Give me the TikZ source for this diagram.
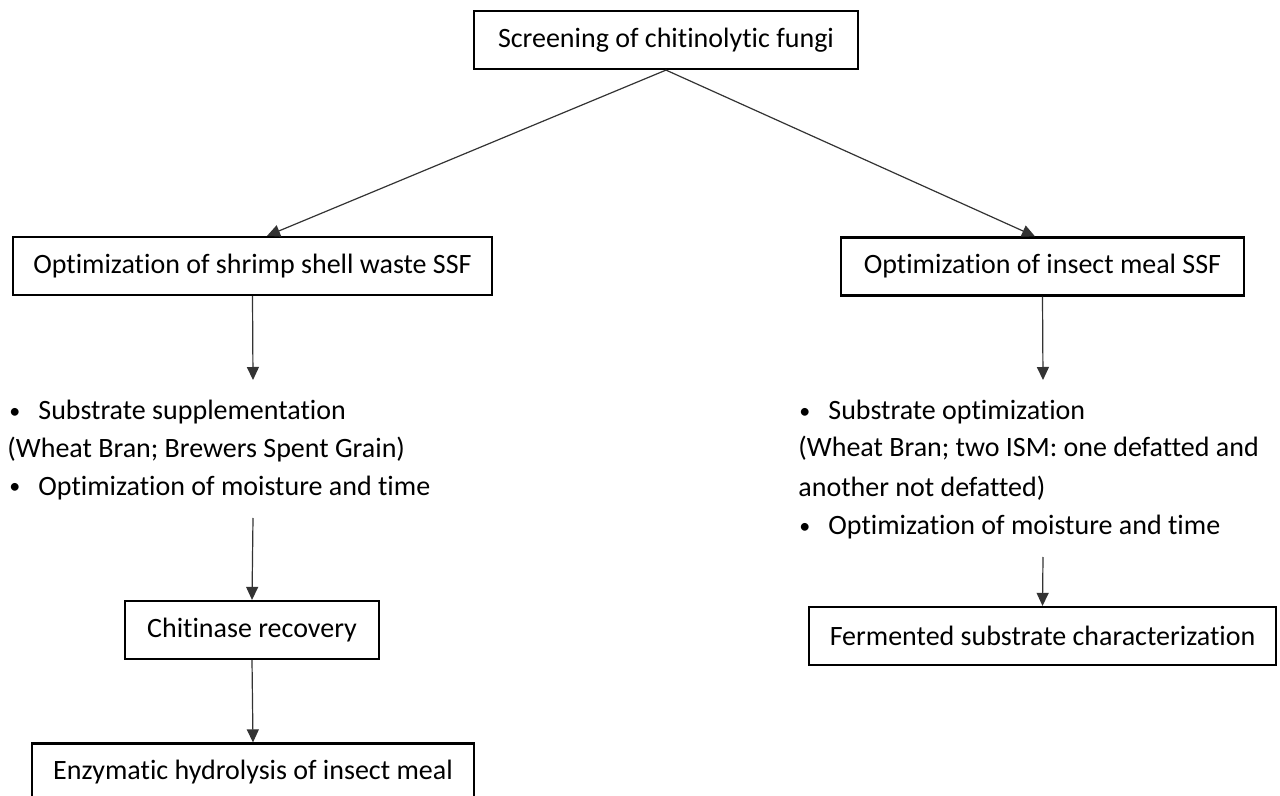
\documentclass[tikz,border=0pt]{standalone}
\usepackage{fontspec}
\setmainfont{Carlito}[RawFeature={-liga;-clig}]
\usetikzlibrary{arrows.meta}
\newcommand{\smallbul}{\raisebox{0.6pt}{\fontsize{11}{13}\selectfont •}}
\begin{document}
\begin{tikzpicture}[x=0.5pt,y=-0.5pt,
  box/.style={draw=black,line width=1.1pt,minimum height=29pt,inner sep=0pt,font=\fontsize{14}{17}\selectfont},
  conn/.style={draw=black!80,line width=0.6pt,-{Triangle[length=6.5pt,width=6pt]}},
  txt/.style={anchor=base west,inner sep=0pt,font=\fontsize{14}{17}\selectfont}]
\clip (0,0) rectangle (1280,796);
\fill[white] (0,0) rectangle (1280,796);
% boxes
\node[box,minimum width=192pt] (top) at (666,40) {Screening of chitinolytic fungi};
\node[box,minimum width=239.5pt] (L1) at (252.5,266) {Optimization of shrimp shell waste SSF};
\node[box,minimum width=201.5pt] (R1) at (1042.5,266.5) {Optimization of insect meal SSF};
\node[box,minimum width=127pt] (L2) at (252,630) {Chitinase recovery};
\node[box,minimum width=221pt] (L3) at (253,772.5) {Enzymatic hydrolysis of insect meal};
\node[box,minimum width=233.5pt] (R2) at (1042.5,636) {Fermented substrate characterization};
% left text block
\node[txt] (lb1) at (9,420) {\smallbul};
\node[txt] (lt1) at (38,420) {Substrate supplementation};
\node[txt] (lt2) at (7,458) {(Wheat Bran; Brewers Spent Grain)};
\node[txt] (lb2) at (9,495) {\smallbul};
\node[txt] (lt3) at (38,495) {Optimization of moisture and time};
% right text block
\node[txt] (rb1) at (799,420) {\smallbul};
\node[txt] (rt1) at (828,420) {Substrate optimization};
\node[txt] (rt2) at (798,457) {(Wheat Bran; two ISM: one defatted and};
\node[txt] (rt3) at (798,496) {another not defatted)};
\node[txt] (rb2) at (799,535) {\smallbul};
\node[txt] (rt4) at (828,535) {Optimization of moisture and time};
% free ends
\coordinate (la) at (253,380);
\coordinate (lb) at (253,518);
\coordinate (ra) at (1043,380);
\coordinate (rb) at (1043,557);
% connectors
\draw[conn] (top.south) -- ([xshift=7.25pt]L1.north);
\draw[conn] (top.south) -- ([xshift=-3.75pt]R1.north);
\draw[conn] (L1.south) -- (la);
\draw[conn] (lb) -- (L2.north);
\draw[conn] (L2.south) -- (L3.north);
\draw[conn] (R1.south) -- (ra);
\draw[conn] (rb) -- (R2.north);
\end{tikzpicture}
\end{document}
